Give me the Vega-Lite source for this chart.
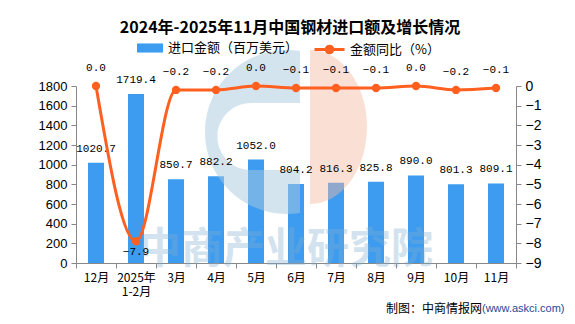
{
  "$schema": "https://vega.github.io/schema/vega-lite/v6.json",
  "width": 440,
  "height": 177,
  "autosize": {"type": "none"},
  "padding": {"left": 76, "top": 86, "right": 59, "bottom": 61},
  "background": "white",
  "title": {
    "text": "2024年-2025年11月中国钢材进口额及增长情况",
    "font": "Noto Sans CJK SC",
    "fontSize": 16,
    "fontWeight": "bold",
    "color": "#000000",
    "anchor": "middle",
    "offset": -3,
    "dx": -6
  },
  "config": {
    "view": {"stroke": null},
    "legend": {"padding": 0}
  },
  "data": {
    "values": [
      {"month": "12月", "amount": 1020.7, "yoy": 0.0},
      {"month": "2025年\n1-2月", "amount": 1719.4, "yoy": -7.9},
      {"month": "3月", "amount": 850.7, "yoy": -0.2},
      {"month": "4月", "amount": 882.2, "yoy": -0.2},
      {"month": "5月", "amount": 1052.0, "yoy": 0.0},
      {"month": "6月", "amount": 804.2, "yoy": -0.1},
      {"month": "7月", "amount": 816.3, "yoy": -0.1},
      {"month": "8月", "amount": 825.8, "yoy": -0.1},
      {"month": "9月", "amount": 890.0, "yoy": 0.0},
      {"month": "10月", "amount": 801.3, "yoy": -0.2},
      {"month": "11月", "amount": 809.1, "yoy": -0.1}
    ]
  },
  "encoding": {
    "x": {
      "field": "month",
      "type": "nominal",
      "sort": null,
      "scale": {"paddingInner": 0, "paddingOuter": 0},
      "axis": {
        "title": null,
        "labelAngle": 0,
        "domainColor": "#888888",
        "tickColor": "#888888",
        "tickBand": "extent",
        "tickSize": 5,
        "labelPadding": 4,
        "labelFont": "Noto Sans CJK SC",
        "labelFontSize": 12,
        "labelColor": "#000000",
        "labelLineHeight": 14,
        "labelBaseline": "top",
        "labelExpr": "split(datum.label, '\\n')"
      }
    }
  },
  "layer": [
    {
      "layer": [
        {
          "mark": {"type": "bar", "width": {"band": 0.4}},
          "encoding": {
            "y": {
              "field": "amount",
              "type": "quantitative",
              "scale": {"domain": [0, 1800], "nice": false},
              "axis": {
                "title": null,
                "orient": "left",
                "tickCount": 9,
                "format": "d",
                "grid": false,
                "domainColor": "#888888",
                "tickColor": "#888888",
                "tickSize": 5,
                "labelPadding": 4,
                "labelFont": "Liberation Sans",
                "labelFontSize": 13,
                "labelColor": "#000000"
              }
            },
            "fill": {
              "datum": "进口金额（百万美元）",
              "scale": {"range": ["#3D9CF0"]},
              "legend": {
                "title": null,
                "orient": "none",
                "legendX": 61,
                "legendY": -51,
                "symbolType": "M-1,-0.35H1V0.35H-1Z",
                "symbolSize": 676,
                "symbolStrokeWidth": 0,
                "labelFont": "Noto Sans CJK SC",
                "labelFontSize": 13,
                "labelColor": "#000000",
                "labelOffset": 5
              }
            }
          }
        },
        {
          "data": {"values": [{"name": "logo"}]},
          "mark": {
            "type": "point",
            "filled": true,
            "shape": "M0.0485,-0.9874A1,1 0 1,0 0.0485,0.9874L0.0485,0.464L-0.549,0.464A0.409,0.409 0 0,1 -0.549,-0.354L0.0485,-0.354Z",
            "size": 26896,
            "color": "#A9C9DF",
            "opacity": 0.5,
            "strokeWidth": 0
          },
          "encoding": {
            "x": {"datum": "6月"},
            "y": {"datum": 1332, "scale": {"domain": [0, 1800], "nice": false}}
          }
        },
        {
          "data": {"values": [{"name": "logo"}]},
          "mark": {
            "type": "point",
            "filled": true,
            "shape": "M0.182,-1A0.74,1 0 0,1 0.182,1Z",
            "size": 23716,
            "color": "#F5B89F",
            "opacity": 0.45,
            "strokeWidth": 0
          },
          "encoding": {
            "x": {"datum": "6月"},
            "y": {"datum": 1383, "scale": {"domain": [0, 1800], "nice": false}}
          }
        },
        {
          "data": {"values": [{"name": "watermark"}]},
          "mark": {
            "type": "text",
            "text": "中商产业研究院",
            "font": "Noto Sans CJK SC",
            "fontSize": 42,
            "fontWeight": "bold",
            "color": "#7FAED0",
            "opacity": 0.35,
            "align": "center",
            "baseline": "middle",
            "dx": -10,
            "dy": -13
          },
          "encoding": {
            "x": {"datum": "6月"},
            "y": {"datum": 0, "scale": {"domain": [0, 1800], "nice": false}}
          }
        },
        {
          "mark": {
            "type": "text",
            "font": "Liberation Mono",
            "fontSize": 11,
            "color": "#000000",
            "align": "center",
            "baseline": "alphabetic",
            "dy": -11
          },
          "encoding": {
            "y": {"field": "amount", "type": "quantitative", "scale": {"domain": [0, 1800], "nice": false}},
            "text": {"field": "amount", "type": "quantitative", "format": ".1f"}
          }
        },
        {
          "data": {"values": [{"name": "source"}]},
          "mark": {
            "type": "text",
            "text": "制图：中商情报网",
            "font": "Noto Sans CJK SC",
            "fontSize": 12,
            "color": "#000000",
            "align": "right",
            "baseline": "middle",
            "dx": -14,
            "dy": 46
          },
          "encoding": {
            "x": {"datum": "11月"},
            "y": {"datum": 0, "scale": {"domain": [0, 1800], "nice": false}}
          }
        },
        {
          "data": {"values": [{"name": "source"}]},
          "mark": {
            "type": "text",
            "text": "(www.askci.com)",
            "font": "Liberation Sans",
            "fontSize": 11,
            "color": "#24499B",
            "align": "left",
            "baseline": "middle",
            "dx": -14,
            "dy": 46
          },
          "encoding": {
            "x": {"datum": "11月"},
            "y": {"datum": 0, "scale": {"domain": [0, 1800], "nice": false}}
          }
        }
      ]
    },
    {
      "layer": [
        {
          "mark": {"type": "line", "interpolate": "monotone", "strokeWidth": 3},
          "encoding": {
            "y": {
              "field": "yoy",
              "type": "quantitative",
              "scale": {"domain": [-9, 0], "nice": false},
              "axis": {
                "title": null,
                "orient": "right",
                "tickCount": 10,
                "grid": false,
                "domainColor": "#888888",
                "tickColor": "#888888",
                "tickSize": 5,
                "labelPadding": 4,
                "labelFont": "Liberation Sans",
                "labelFontSize": 14,
                "labelColor": "#000000"
              }
            },
            "stroke": {
              "datum": "金额同比（%）",
              "scale": {"range": ["#FF5F1F"]},
              "legend": {
                "title": null,
                "orient": "none",
                "legendX": 237,
                "legendY": -53,
                "symbolType": "M-1,0H1M0.22,0A0.22,0.22 0 1,1 -0.22,0A0.22,0.22 0 1,1 0.22,0",
                "symbolSize": 900,
                "symbolFillColor": "#FF5F1F",
                "symbolStrokeColor": "#FF5F1F",
                "symbolStrokeWidth": 3,
                "labelFont": "Noto Sans CJK SC",
                "labelFontSize": 13,
                "labelColor": "#000000",
                "labelOffset": 4
              }
            }
          }
        },
        {
          "mark": {"type": "point", "filled": true, "size": 70, "color": "#FF5F1F", "opacity": 1},
          "encoding": {
            "y": {"field": "yoy", "type": "quantitative", "scale": {"domain": [-9, 0], "nice": false}}
          }
        },
        {
          "transform": [{"filter": "datum.yoy > -5"}],
          "mark": {
            "type": "text",
            "font": "Liberation Mono",
            "fontSize": 11,
            "color": "#000000",
            "align": "center",
            "baseline": "alphabetic",
            "dy": -15
          },
          "encoding": {
            "y": {"field": "yoy", "type": "quantitative", "scale": {"domain": [-9, 0], "nice": false}},
            "text": {"field": "yoy", "type": "quantitative", "format": ".1f"}
          }
        },
        {
          "transform": [{"filter": "datum.yoy <= -5"}],
          "mark": {
            "type": "text",
            "font": "Liberation Mono",
            "fontSize": 11,
            "color": "#000000",
            "align": "center",
            "baseline": "alphabetic",
            "dy": 14
          },
          "encoding": {
            "y": {"field": "yoy", "type": "quantitative", "scale": {"domain": [-9, 0], "nice": false}},
            "text": {"field": "yoy", "type": "quantitative", "format": ".1f"}
          }
        }
      ]
    }
  ],
  "resolve": {"scale": {"y": "independent", "fill": "independent", "stroke": "independent"}}
}
